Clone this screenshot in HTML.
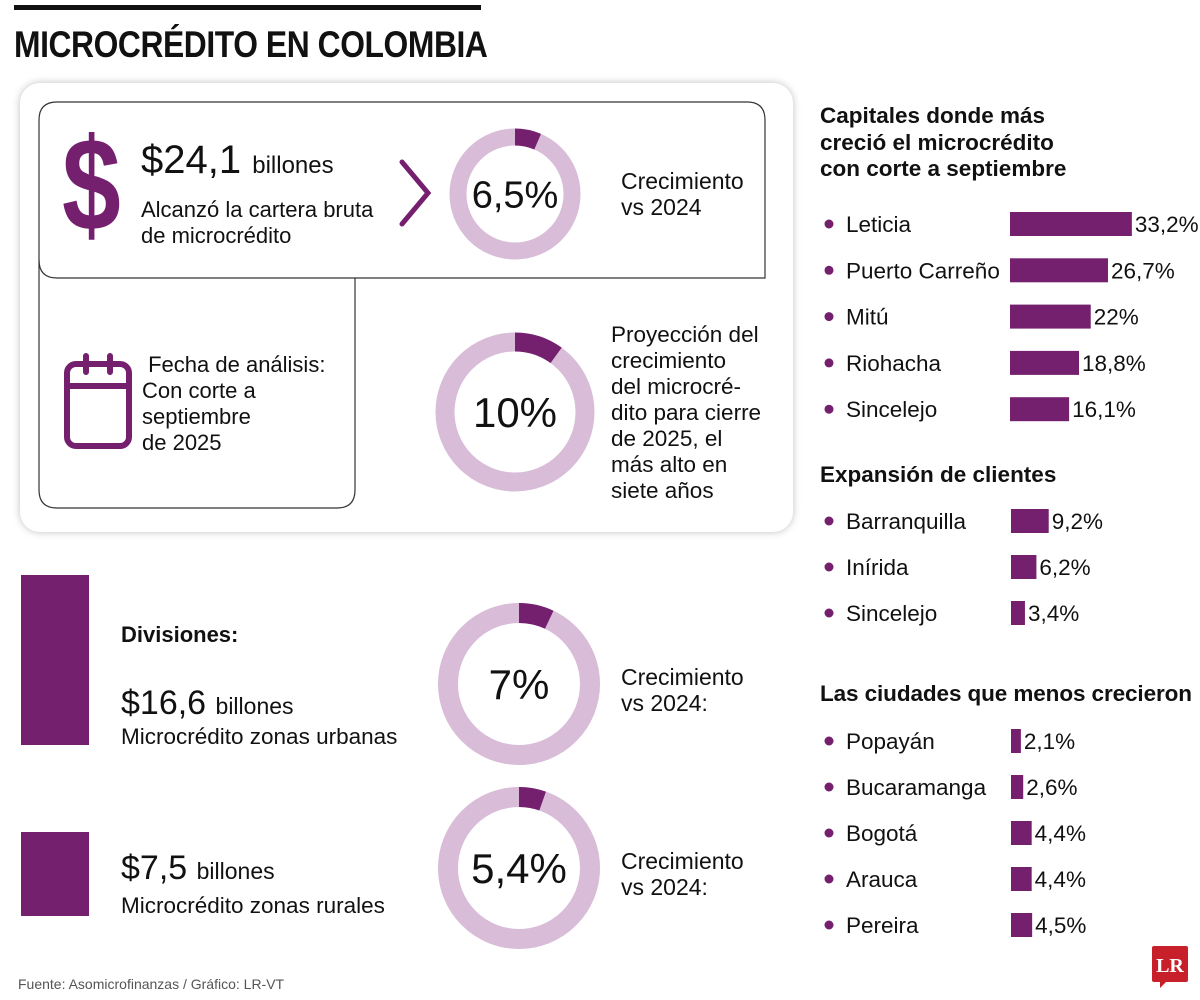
<!DOCTYPE html>
<html><head><meta charset="utf-8">
<style>
html,body{margin:0;padding:0;background:#fff;}
body{width:1200px;height:1000px;position:relative;overflow:hidden;font-family:"Liberation Sans",sans-serif;color:#111;}
.abs{position:absolute;}
.t{position:absolute;white-space:nowrap;line-height:1;}
</style></head><body>
<div class="abs" style="left:14px;top:5px;width:467px;height:5px;background:#111;"></div>
<div class="t" style="left:14px;top:26px;font-weight:bold;font-size:37px;letter-spacing:-0.5px;transform:scaleX(0.86);transform-origin:0 0;">MICROCRÉDITO EN COLOMBIA</div>

<div class="abs" style="left:20px;top:83px;width:773px;height:449px;border-radius:20px;background:#fff;box-shadow:0 0 8px rgba(0,0,0,0.25);"></div>

<svg class="abs" style="left:0;top:0" width="1200" height="1000" id="main">
  <path d="M57,102 H747 Q765,102 765,120 V278 H57 Q39,278 39,260 V120 Q39,102 57,102 Z" fill="none" stroke="#333" stroke-width="1.2"/>
  <path d="M39,260 V490 Q39,508 57,508 H337 Q355,508 355,490 V278" fill="none" stroke="#333" stroke-width="1.2"/>
  <text x="0" y="0" transform="translate(62,230) scale(0.8,1)" font-family="Liberation Sans, sans-serif" font-weight="bold" font-size="132" fill="#74206f">$</text>
  <path d="M402,162 L428,193 L402,224" fill="none" stroke="#74206f" stroke-width="5" stroke-linecap="round"/>
  <g>
    <rect x="67" y="364" width="62" height="82" rx="9" fill="none" stroke="#74206f" stroke-width="6"/>
    <line x1="67" y1="386" x2="129" y2="386" stroke="#74206f" stroke-width="6"/>
    <line x1="86" y1="356" x2="86" y2="372" stroke="#74206f" stroke-width="6" stroke-linecap="round"/>
    <line x1="110" y1="356" x2="110" y2="372" stroke="#74206f" stroke-width="6" stroke-linecap="round"/>
  </g>
  <rect x="21" y="575" width="68" height="170" fill="#74206f"/>
  <rect x="21" y="832" width="68" height="84" fill="#74206f"/>
  <g id="donuts"></g>
  <g id="bars"></g>
</svg>

<div class="t" style="left:141px;top:140px;font-size:40px;">$24,1 <span style="font-size:24px">billones</span></div>
<div class="t" style="left:141px;top:197px;font-size:22px;line-height:26px;">Alcanzó la cartera bruta<br>de microcrédito</div>
<div class="t" style="left:621px;top:168px;font-size:23px;line-height:26px;">Crecimiento<br>vs 2024</div>
<div class="t" style="left:142px;top:352px;font-size:22px;line-height:26px;">&nbsp;Fecha de análisis:<br>Con corte a<br>septiembre<br>de 2025</div>
<div class="t" style="left:611px;top:322px;font-size:22.5px;line-height:26px;">Proyección del<br>crecimiento<br>del microcré-<br>dito para cierre<br>de 2025, el<br>más alto en<br>siete años</div>
<div class="t" style="left:121px;top:624px;font-size:22px;font-weight:bold;">Divisiones:</div>
<div class="t" style="left:121px;top:686px;font-size:34px;">$16,6 <span style="font-size:23px">billones</span></div>
<div class="t" style="left:121px;top:726px;font-size:22.5px;">Microcrédito zonas urbanas</div>
<div class="t" style="left:621px;top:664px;font-size:23px;line-height:26px;">Crecimiento<br>vs 2024:</div>
<div class="t" style="left:121px;top:851px;font-size:34px;">$7,5 <span style="font-size:23px">billones</span></div>
<div class="t" style="left:121px;top:895px;font-size:22.5px;">Microcrédito zonas rurales</div>
<div class="t" style="left:621px;top:848px;font-size:23px;line-height:26px;">Crecimiento<br>vs 2024:</div>

<div class="t" style="left:820px;top:103px;font-size:22.5px;font-weight:bold;line-height:26.5px;">Capitales donde más<br>creció el microcrédito<br>con corte a septiembre</div>
<div class="t" style="left:820px;top:464px;font-size:22.5px;font-weight:bold;">Expansión de clientes</div>
<div class="t" style="left:820px;top:683px;font-size:22.5px;font-weight:bold;letter-spacing:-0.1px;">Las ciudades que menos crecieron</div>

<div class="t" style="left:18px;top:977px;font-size:14px;color:#555;">Fuente: Asomicrofinanzas / Gráfico: LR-VT</div>
<svg class="abs" style="left:1152px;top:946px" width="38" height="44">
  <path d="M2,0 H34 Q36,0 36,2 V34 Q36,36 34,36 H14 L8,42 L8,36 H2 Q0,36 0,34 V2 Q0,0 2,0 Z" fill="#c8202a"/>
  <text x="18" y="26" text-anchor="middle" font-family="Liberation Serif, serif" font-weight="bold" font-size="20" fill="#fff">LR</text>
</svg>

<script>
const NS='http://www.w3.org/2000/svg';
const donutValues=[6.5,10,7,5.4];
const donutLabels=['6,5%','10%','7%','5,4%'];
const donutCx=[515,515,519,519];
const donutCy=[194,412,684,868];
const donutR=[57,70,71,71];
const donutW=[17,19,20,20];
const donutFont=[38,42,42,42];

const capCities=['Leticia','Puerto Carreño','Mitú','Riohacha','Sincelejo'];
const capValues=[33.2,26.7,22,18.8,16.1];
const capLabels=['33,2%','26,7%','22%','18,8%','16,1%'];
const cliCities=['Barranquilla','Inírida','Sincelejo'];
const cliValues=[9.2,6.2,3.4];
const cliLabels=['9,2%','6,2%','3,4%'];
const lowCities=['Popayán','Bucaramanga','Bogotá','Arauca','Pereira'];
const lowValues=[2.1,2.6,4.4,4.4,4.5];
const lowLabels=['2,1%','2,6%','4,4%','4,4%','4,5%'];

function mk(tag,attrs,parent){const e=document.createElementNS(NS,tag);for(const k in attrs)e.setAttribute(k,attrs[k]);parent.appendChild(e);return e;}
const dg=document.getElementById('donuts');
donutValues.forEach((v,i)=>{
  const g=mk('g',{},dg);
  
  
  const cx=donutCx[i],cy=donutCy[i],r=donutR[i];
  mk('circle',{cx:cx,cy:cy,r:r,fill:'none',stroke:'#d8bcd8','stroke-width':donutW[i]},g);
  const a=v/100*2*Math.PI;
  const x2=cx+r*Math.sin(a),y2=cy-r*Math.cos(a);
  const p=mk('path',{d:`M${cx},${cy-r} A${r},${r} 0 ${v>50?1:0} 1 ${x2},${y2}`,fill:'none',stroke:'#74206f','stroke-width':donutW[i]},g);
  
  
  const t=mk('text',{x:cx,y:cy+donutFont[i]*0.36,'text-anchor':'middle','font-family':'Liberation Sans, sans-serif','font-size':donutFont[i],fill:'#111'},g);
  t.textContent=donutLabels[i];
});

const bg=document.getElementById('bars');
function section(cities,values,labels,y0,step,x0,scale,prefix){
  cities.forEach((c,i)=>{
    const y=y0+i*step;
    const g=mk('g',{},bg);
    
    
    mk('circle',{cx:829,cy:y,r:4.5,fill:'#74206f'},g);
    const n=mk('text',{x:846,y:y+8,'font-family':'Liberation Sans, sans-serif','font-size':22.5,fill:'#111'},g);
    n.textContent=c;
    const w=values[i]*scale;
    const b=mk('rect',{x:x0,y:y-12,width:w,height:24,fill:'#74206f'},g);
    
    
    const l=mk('text',{x:x0+w+3,y:y+8,'font-family':'Liberation Sans, sans-serif','font-size':22.5,fill:'#111'},g);
    l.textContent=labels[i];
  });
}
section(capCities,capValues,capLabels,224,46.3,1010,3.67,'capital');
section(cliCities,cliValues,cliLabels,521,46,1011,4.1,'clients');
section(lowCities,lowValues,lowLabels,741,46,1011,4.7,'least');
</script>
</body></html>
